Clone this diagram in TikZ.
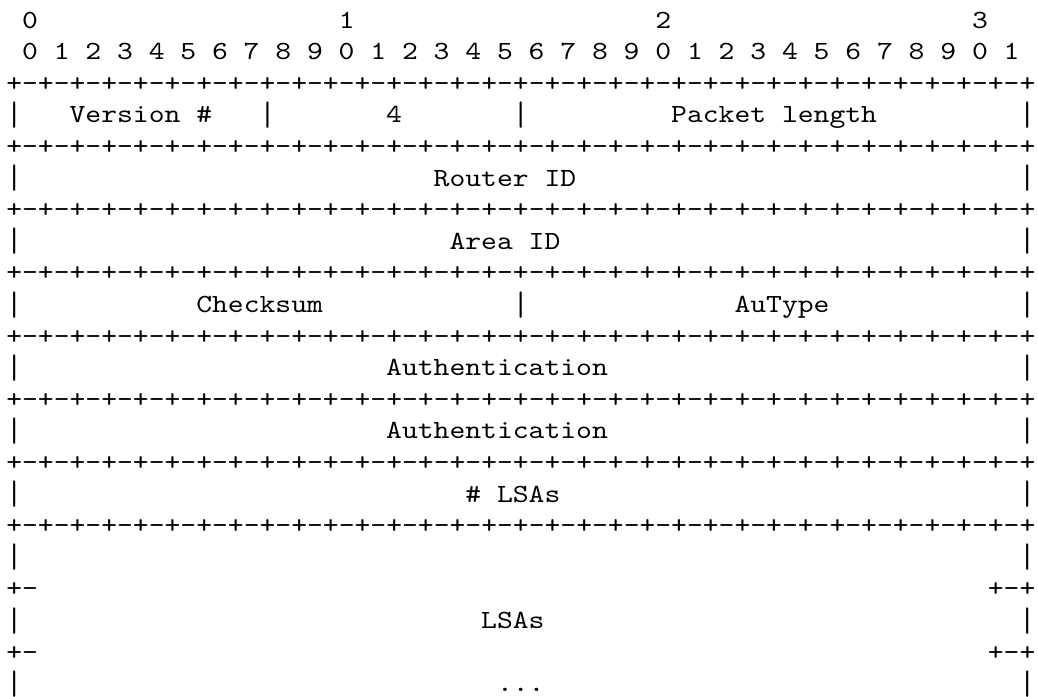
\documentclass[tikz,border=0pt]{standalone}
\usepackage{fontspec}
\newfontfamily\asciifont{lmmono10-regular}[Extension=.otf, FakeStretch=1.151, Ligatures=NoCommon]
\tikzset{
  ascii/.style={anchor=base west, inner sep=0pt, outer sep=0pt,
    font=\fontsize{13.1pt}{15.8pt}\asciifont, text=black}
}
% #1 name, #2 line number (1 = top), #3 column, #4 text
\newcommand\seg[4]{\node[ascii] (#1) at ({3.15pt+#3*7.9155pt},{-14pt-(#2-1)*15.8pt}) {#4};}
\newcommand\sepline{+-+-+-+-+-+-+-+-+-+-+-+-+-+-+-+-+-+-+-+-+-+-+-+-+-+-+-+-+-+-+-+-+}
% the vertical bar of the reference font is longer than that of LM Mono
\newcommand\vb{\raisebox{-1.3pt}{\scalebox{1}[1.3]{|}}}
\begin{document}
\begin{tikzpicture}
\useasboundingbox (0,0) rectangle (519pt,-348pt);
% bit numbering
\seg{t0}{1}{1}{0}
\seg{t1}{1}{21}{1}
\seg{t2}{1}{41}{2}
\seg{t3}{1}{61}{3}
\seg{bits}{2}{1}{0 1 2 3 4 5 6 7 8 9 0 1 2 3 4 5 6 7 8 9 0 1 2 3 4 5 6 7 8 9 0 1}
% separators
\seg{s3}{3}{0}{\sepline}
\seg{s5}{5}{0}{\sepline}
\seg{s7}{7}{0}{\sepline}
\seg{s9}{9}{0}{\sepline}
\seg{s11}{11}{0}{\sepline}
\seg{s13}{13}{0}{\sepline}
\seg{s15}{15}{0}{\sepline}
\seg{s17}{17}{0}{\sepline}
% row: Version / 4 / Packet length
\seg{l4a}{4}{0}{\vb}
\seg{ver}{4}{4}{Version \#}
\seg{l4b}{4}{16}{\vb}
\seg{four}{4}{24}{4}
\seg{l4c}{4}{32}{\vb}
\seg{plen}{4}{42}{Packet length}
\seg{l4d}{4}{64}{\vb}
% Router ID
\seg{l6a}{6}{0}{\vb}
\seg{rid}{6}{27}{Router ID}
\seg{l6b}{6}{64}{\vb}
% Area ID
\seg{l8a}{8}{0}{\vb}
\seg{aid}{8}{28}{Area ID}
\seg{l8b}{8}{64}{\vb}
% Checksum / AuType
\seg{l10a}{10}{0}{\vb}
\seg{cks}{10}{12}{Checksum}
\seg{l10b}{10}{32}{\vb}
\seg{aut}{10}{46}{AuType}
\seg{l10c}{10}{64}{\vb}
% Authentication
\seg{l12a}{12}{0}{\vb}
\seg{auth1}{12}{24}{Authentication}
\seg{l12b}{12}{64}{\vb}
\seg{l14a}{14}{0}{\vb}
\seg{auth2}{14}{24}{Authentication}
\seg{l14b}{14}{64}{\vb}
% # LSAs
\seg{l16a}{16}{0}{\vb}
\seg{nlsa}{16}{29}{\# LSAs}
\seg{l16b}{16}{64}{\vb}
% LSAs block
\seg{l18a}{18}{0}{\vb}
\seg{l18b}{18}{64}{\vb}
\seg{p19a}{19}{0}{+-}
\seg{p19b}{19}{62}{+-+}
\seg{l20a}{20}{0}{\vb}
\seg{lsas}{20}{30}{LSAs}
\seg{l20b}{20}{64}{\vb}
\seg{p21a}{21}{0}{+-}
\seg{p21b}{21}{62}{+-+}
\seg{l22a}{22}{0}{\vb}
\seg{dots}{22}{31}{...}
\seg{l22b}{22}{64}{\vb}
\end{tikzpicture}
\end{document}
